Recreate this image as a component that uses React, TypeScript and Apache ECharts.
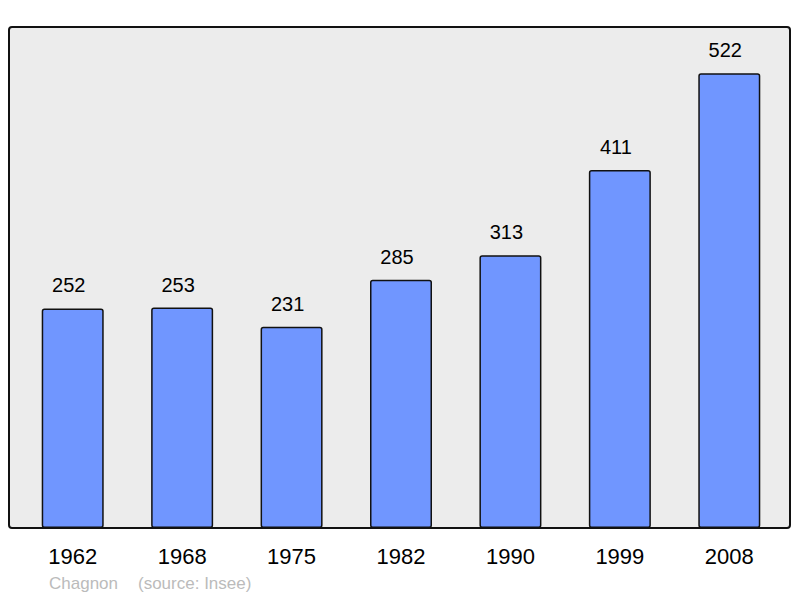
import React, { useEffect, useRef } from "react";
import * as echarts from "echarts";

const years = ["1962", "1968", "1975", "1982", "1990", "1999", "2008"];
const population = [252, 253, 231, 285, 313, 411, 522];
const commune = "Chagnon";
const source = "(source: Insee)";

const FONT = "'Liberation Sans', Arial, sans-serif";

export default function App() {
  const ref = useRef<HTMLDivElement>(null);
  useEffect(() => {
    const chart = echarts.init(ref.current!, undefined, { renderer: "svg" });
    chart.setOption({
      animation: false,
      backgroundColor: "#ffffff",
      grid: { left: 18, width: 766, top: 28, height: 500 },
      graphic: [
        {
          type: "rect",
          z: -10,
          shape: { x: 9, y: 27, width: 781, height: 501, r: 3 },
          style: { fill: "#ececec", stroke: "#111", lineWidth: 2 },
        },
        {
          type: "text",
          left: 49,
          top: 575,
          style: {
            text: commune,
            fill: "#bbbbbb",
            font: "17px " + FONT,
          },
        },
        {
          type: "text",
          left: 138,
          top: 575,
          style: {
            text: source,
            fill: "#bbbbbb",
            font: "17px " + FONT,
          },
        },
      ],
      xAxis: {
        type: "category",
        data: years,
        axisLine: { show: false },
        axisTick: { show: false },
        axisLabel: {
          margin: 17,
          color: "#000",
          fontSize: 22,
          fontFamily: FONT,
        },
      },
      yAxis: {
        type: "value",
        min: 0,
        max: 574,
        show: false,
        splitLine: { show: false },
      },
      series: [
        {
          type: "bar",
          data: population,
          barWidth: 62,
          itemStyle: {
            color: "#7096ff",
            borderColor: "#111",
            borderWidth: 1.5,
            borderRadius: 2,
          },
          label: {
            show: true,
            position: "top",
            distance: 13,
            offset: [-4, 0],
            color: "#000",
            fontSize: 20,
            fontFamily: FONT,
          },
        },
      ],
    });
    return () => chart.dispose();
  }, []);
  return <div ref={ref} style={{ width: 800, height: 598, position: "absolute", left: 0, top: 0 }} />;
}
